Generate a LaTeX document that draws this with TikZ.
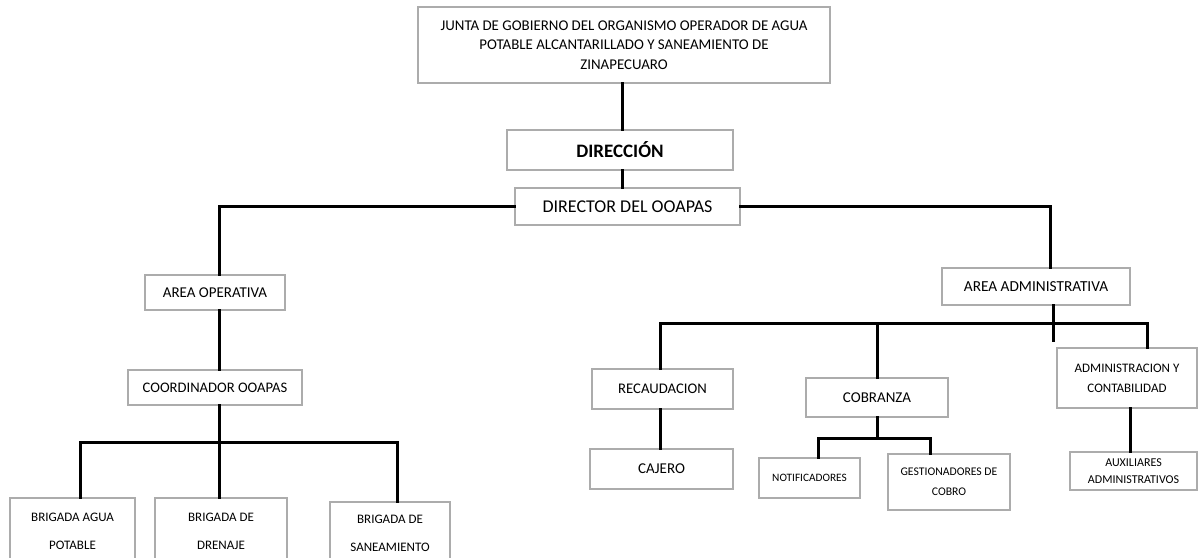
\documentclass[tikz,border=0pt]{standalone}
\usepackage{fontspec}
\setmainfont{Carlito}
\usetikzlibrary{positioning}
\tikzset{
    basic/.style  = {draw=gray!65, line width=1.3pt, rectangle, align=center, inner sep=0pt, fill=white},
    unit/.style   = {basic, font=\fontsize{15}{19.5}\selectfont},
    small unit/.style = {basic, font=\fontsize{11.7}{20}\selectfont},
    mid unit/.style = {basic, font=\fontsize{13}{28}\selectfont},
    link/.style   = {line width=3pt, black, line cap=rect}
}
\begin{document}
\begin{tikzpicture}[x=1pt, y=-1pt]
	\useasboundingbox (0,0) rectangle (1198,557);
	% top of the chart
	\node[unit, minimum width=412pt, minimum height=76pt, font=\fontsize{14.9}{19.5}\selectfont] (junta) at (624,45)
		{JUNTA DE GOBIERNO DEL ORGANISMO OPERADOR DE AGUA\\POTABLE ALCANTARILLADO Y SANEAMIENTO DE\\ZINAPECUARO};
	\node[unit, minimum width=226pt, minimum height=40pt, font=\fontsize{19}{22}\selectfont\bfseries] (direccion) at (620,150) {DIRECCIÓN};
	\node[unit, minimum width=225pt, minimum height=37pt, font=\fontsize{18}{22}\selectfont] (director) at (627.5,206.5) {DIRECTOR DEL OOAPAS};
	% area operativa
	\node[unit, minimum width=140pt, minimum height=35pt] (operativa) at (215,292.5) {AREA OPERATIVA};
	\node[unit, minimum width=174pt, minimum height=35pt, font=\fontsize{14.6}{19}\selectfont] (coordinador) at (215,387.5) {COORDINADOR OOAPAS};
	\node[mid unit, minimum width=125pt, minimum height=66pt] (agua) at (72.5,531) {BRIGADA AGUA\\POTABLE};
	\node[mid unit, minimum width=132pt, minimum height=66pt] (drenaje) at (221,531) {BRIGADA DE\\DRENAJE};
	\node[mid unit, minimum width=120pt, minimum height=62pt] (sanea) at (390,533) {BRIGADA DE\\SANEAMIENTO};
	% area administrativa
	\node[unit, minimum width=188pt, minimum height=37pt, font=\fontsize{15.3}{19}\selectfont] (administrativa) at (1036,286.5) {AREA ADMINISTRATIVA};
	\node[unit, minimum width=141pt, minimum height=40pt, font=\fontsize{14.7}{19}\selectfont] (recaudacion) at (662.5,389) {RECAUDACION};
	\node[unit, minimum width=143pt, minimum height=40pt] (cajero) at (661.5,469) {CAJERO};
	\node[unit, minimum width=142pt, minimum height=39pt] (cobranza) at (877,397.5) {COBRANZA};
	\node[small unit, minimum width=101pt, minimum height=40pt, font=\fontsize{11.3}{18}\selectfont] (notificadores) at (809.5,478) {NOTIFICADORES};
	\node[small unit, minimum width=122pt, minimum height=56pt] (gestionadores) at (949,482) {GESTIONADORES DE\\COBRO};
	\node[small unit, minimum width=140pt, minimum height=60pt, font=\fontsize{13}{20}\selectfont] (contabilidad) at (1127,378) {ADMINISTRACION Y\\CONTABILIDAD};
	\node[small unit, minimum width=127pt, minimum height=38pt, font=\fontsize{12}{17}\selectfont] (auxiliares) at (1133.5,471) {AUXILIARES\\ADMINISTRATIVOS};
	% connectors
	\coordinate (busL) at (219,442);
	\coordinate (busR) at (900,323);
	\coordinate (busC) at (877,438);
	\begin{scope}[every path/.style={link}]
		\draw ([xshift=-2pt]junta.south) -- ([xshift=-2pt]junta.south |- direccion.north);
		\draw ([xshift=2pt]direccion.south) -- ([xshift=2pt]direccion.south |- director.north);
		\draw (director.west) -| ([xshift=4pt]operativa.north);
		\draw (director.east) -| ([xshift=14pt]administrativa.north);
		\draw ([xshift=4pt]operativa.south) -- ([xshift=4pt]operativa.south |- coordinador.north);
		\draw ([xshift=4pt]coordinador.south) -- ([xshift=4pt]coordinador.south |- drenaje.north);
		\draw ([xshift=7.5pt]agua.north) |- (busL) -| ([xshift=7pt]sanea.north);
		\draw ([xshift=17pt]administrativa.south) -- ++(0,35);
		\draw ([xshift=-2.5pt]recaudacion.north) |- (busR) -| ([xshift=20pt]contabilidad.north);
		\draw (cobranza.north) -- (cobranza.north |- busR);
		\draw ([xshift=-2.5pt]recaudacion.south) -- ([xshift=-2.5pt]recaudacion.south |- cajero.north);
		\draw (cobranza.south) -- (busC);
		\draw ([xshift=8.5pt]notificadores.north) |- (busC) -| ([xshift=-19pt]gestionadores.north);
		\draw ([xshift=3pt]contabilidad.south) -- ([xshift=3pt]contabilidad.south |- auxiliares.north);
	\end{scope}
\end{tikzpicture}
\end{document}
